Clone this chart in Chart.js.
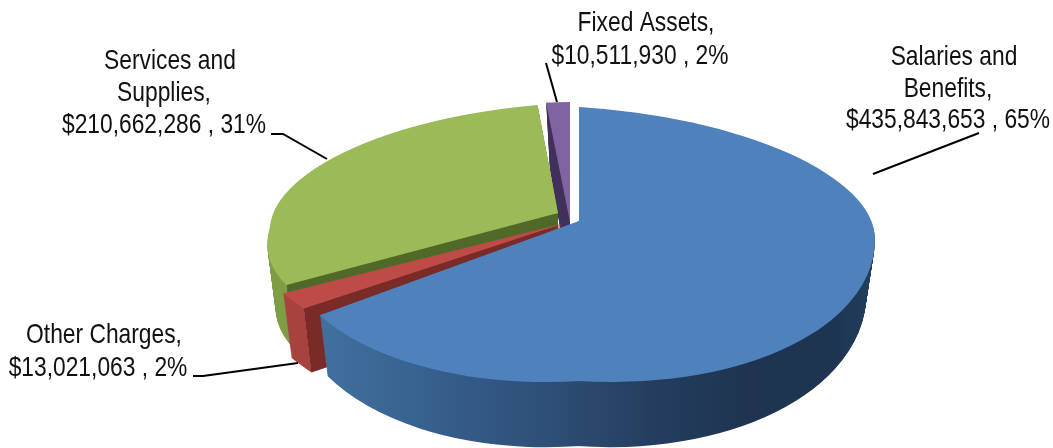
<!DOCTYPE html>
<html>
<head>
<meta charset="utf-8">
<script src="https://cdn.jsdelivr.net/npm/chart.js@4/dist/chart.umd.min.js"></script>
<style>
  html, body { margin: 0; padding: 0; background: #fff; }
  canvas { display: block; }
</style>
</head>
<body>
<canvas id="pieChart" width="1053" height="448"></canvas>
<script>
// === DATA ===
const categories = ['Salaries and Benefits', 'Other Charges', 'Services and Supplies', 'Fixed Assets'];
const amounts = [435843653, 13021063, 210662286, 10511930];
const percents = [65, 2, 31, 2];
const nameLines = [['Salaries and', 'Benefits,'], ['Other Charges,'], ['Services and', 'Supplies,'], ['Fixed Assets,']];
const topColors = ['#4f81bd', '#be4b48', '#9bbb59', '#8064a2'];

// === 3D LOOK ===
// where each exploded slice sits on the page.
// quads = [side x, side y, x radius, y radius, x shear, y shear, spill past the axis]
const R = 100;
const slices3d = [
  { px: 579, py: 221, depth: 54, shrinkX: 0.029, growY: 0.07, quads: [[-1, 1, 296, 161, 33, 0, 12], [1, -1, 296, 114, 0, 18, 0.5], [1, 1, 296, 160, 0, 18, 0.5]] },
  { px: 565, py: 223, depth: 64, shrinkX: 0.029, growY: 0, quads: [[-1, 1, 322, 146, 0, 0, 0.5]] },
  { px: 558, py: 213, depth: 64, shrinkX: 0.029, growY: 0, quads: [[-1, -1, 288, 110, 8, -14, 0.5], [-1, 1, 288, 124, 40, -14, 0.5]] },
  { px: 570, py: 222, depth: 64, shrinkX: 0.15, growY: 0, quads: [[-1, -1, 243, 120, 0, 0, 0.5]] }
];
const paintOrder = [3, 2, 1, 0];

// blue wall runs left to right across the page, so it is set in page x
const blueWallLeft = 320;
const blueWallRight = 875;
const blueWallStops = [[0, '#41709f'], [0.23, '#355d8a'], [0.41, '#2e4f77'], [0.59, '#253e60'], [0.77, '#1e3450'], [0.93, '#1e3552'], [1, '#21405f']];

// gradient whose colour only changes with page x, whatever the current transform is
function pageGradient(ctx, x0, x1) {
  const m = ctx.getTransform();
  const n = m.a * m.a + m.c * m.c;
  const ox = (x0 - m.e) * m.a / n;
  const oy = (x0 - m.e) * m.c / n;
  return ctx.createLinearGradient(ox, oy, ox + (x1 - x0) * m.a / n, oy + (x1 - x0) * m.c / n);
}

function wallFill(ctx, i, arc) {
  if (i === 0) {
    const g = pageGradient(ctx, blueWallLeft, blueWallRight);
    blueWallStops.forEach(([p, col]) => g.addColorStop(p, col));
    return g;
  }
  // red and green: outer rim left of the cut corner, darker cut face right of it
  const cut = (1 + Math.cos(arc.startAngle)) / 2;
  const g = ctx.createLinearGradient(arc.x - R, 0, arc.x + R, 0);
  const rim = i === 1 ? '#a8423f' : i === 2 ? '#7f9d44' : '#40305a';
  const face = i === 1 ? '#7a2b28' : i === 2 ? '#4f6a28' : '#40305a';
  g.addColorStop(0, rim);
  g.addColorStop(cut, rim);
  g.addColorStop(cut, face);
  g.addColorStop(1, face);
  return g;
}

function paintArc(ctx, arc, fill) {
  const saved = arc.options;
  arc.options = { backgroundColor: fill, borderColor: fill, borderWidth: 0, borderRadius: 0, offset: 0, spacing: 0, circular: true, borderAlign: 'center' };
  arc.draw(ctx);
  arc.options = saved;
}

function paintQuad(ctx, arc, geo, q, depth, fill) {
  const [sx, sy, ax, by, shearX, shearY, spill] = q;
  const t = depth / geo.depth;
  const kx = 1 - geo.shrinkX * t;
  const ky = 1 + geo.growY * t;
  ctx.save();
  ctx.translate(geo.px, geo.py + depth);
  ctx.transform(ax * kx / R, shearY / R, -shearX * kx / R, by * ky / R, 0, 0);
  ctx.translate(-arc.x, -arc.y);
  ctx.beginPath();
  const far = R * 1.1;
  const w = far + spill;
  const h = far + 0.5;
  ctx.rect(sx > 0 ? arc.x - spill : arc.x - far, sy > 0 ? arc.y - 0.5 : arc.y - far, w, h);
  ctx.clip();
  paintArc(ctx, arc, typeof fill === 'function' ? fill() : fill);
  ctx.restore();
}

const pie3d = {
  id: 'pie3d',
  beforeDatasetDraw(chart) {
    const ctx = chart.ctx;
    const arcs = chart.getDatasetMeta(0).data;
    paintOrder.forEach((i) => {
      const arc = arcs[i];
      const geo = slices3d[i];
      for (let d = geo.depth; d > 0; d--) {
        geo.quads.forEach((q) => paintQuad(ctx, arc, geo, q, d, () => wallFill(ctx, i, arc)));
      }
      geo.quads.forEach((q) => paintQuad(ctx, arc, geo, q, 0, topColors[i]));
    });
    return false;
  }
};

// === LABELS ===
const labelBoxes = [
  { x: 948, y: 65, gap: 31.5 },
  { x: 98, y: 343, gap: 32.5 },
  { x: 164, y: 69, gap: 32 },
  { x: 640, y: 31, gap: 33 }
];
const leaders = [
  [[979, 133], [873, 174]],
  [[193, 376], [203, 376], [298, 363]],
  [[271, 134], [283, 134], [327, 159]],
  [[546, 63], [557, 102]]
];
const FONT_SQUEEZE = 0.82;
const FIRST_LINE_SHIFT = 6;

const pieLabels = {
  id: 'pieLabels',
  afterDraw(chart) {
    const ctx = chart.ctx;
    ctx.save();
    ctx.strokeStyle = '#000';
    ctx.lineWidth = 2;
    leaders.forEach((pts) => {
      ctx.beginPath();
      pts.forEach((p, n) => (n ? ctx.lineTo(p[0], p[1]) : ctx.moveTo(p[0], p[1])));
      ctx.stroke();
    });
    ctx.fillStyle = '#111';
    ctx.textAlign = 'center';
    ctx.textBaseline = 'alphabetic';
    ctx.font = '27.8px "Liberation Sans", sans-serif';
    categories.forEach((name, i) => {
      const lines = nameLines[i].concat('$' + amounts[i].toLocaleString('en-US') + ' , ' + percents[i] + '%');
      const box = labelBoxes[i];
      lines.forEach((line, n) => {
        ctx.save();
        ctx.translate(box.x + (n === 0 ? FIRST_LINE_SHIFT : 0), box.y + n * box.gap);
        ctx.scale(FONT_SQUEEZE, 1);
        ctx.fillText(line, 0, 0);
        ctx.restore();
      });
    });
    ctx.restore();
  }
};

// === CHART ===
new Chart(document.getElementById('pieChart'), {
  type: 'pie',
  data: {
    labels: categories,
    datasets: [{ data: amounts, backgroundColor: topColors, borderWidth: 0 }]
  },
  options: {
    responsive: false,
    animation: false,
    radius: R,
    plugins: { legend: { display: false }, tooltip: { enabled: false } }
  },
  plugins: [pie3d, pieLabels]
});
</script>
</body>
</html>
